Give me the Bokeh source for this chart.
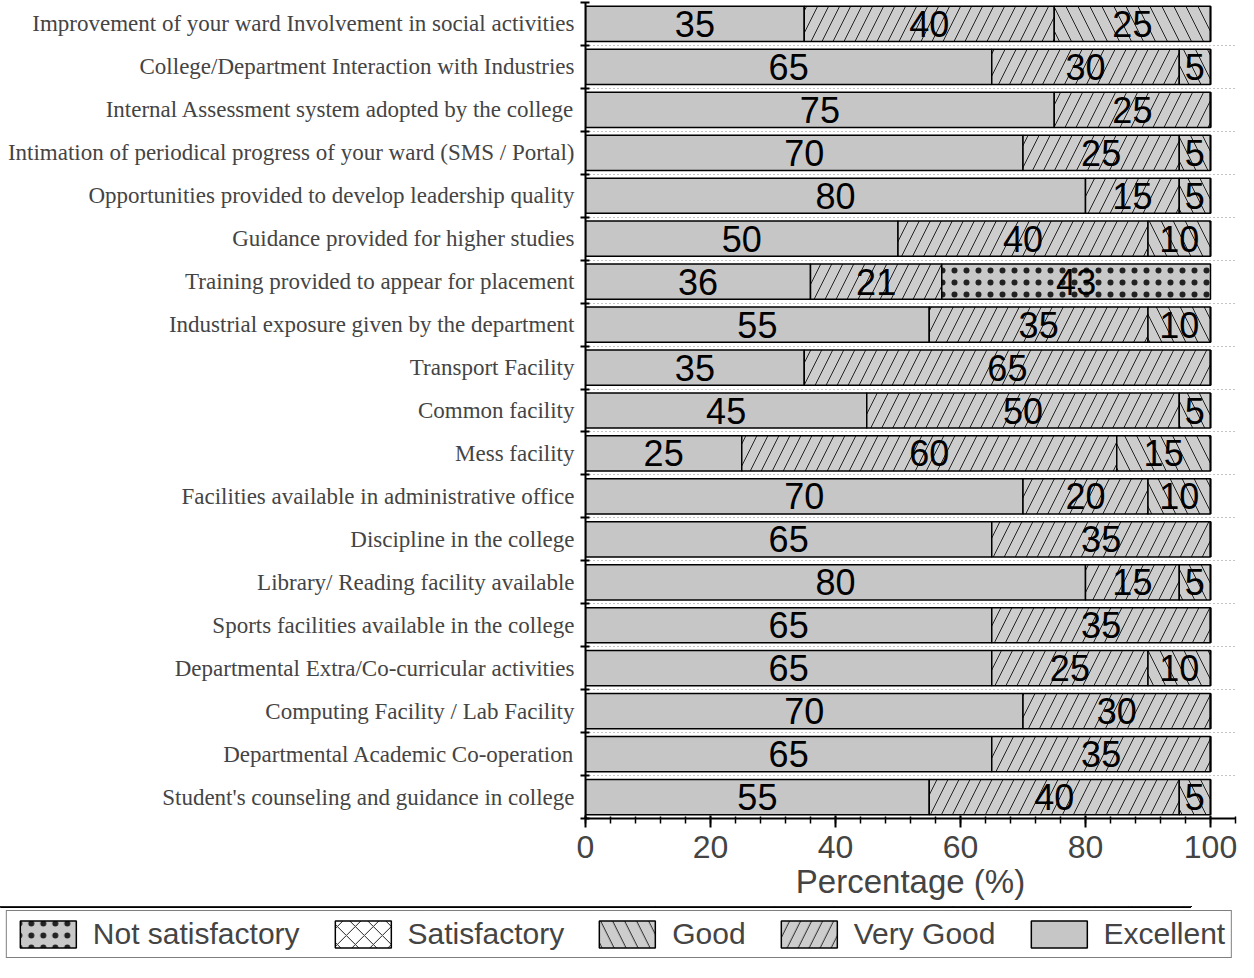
from bokeh.plotting import figure
from bokeh.models import (ColumnDataSource, Range1d, FixedTicker, SingleIntervalTicker,
                          Legend, LegendItem)
from bokeh.layouts import column
from bokeh.core.properties import value
from bokeh.embed import file_html
from bokeh.resources import INLINE

categories = [
    "Improvement of your ward Involvement in social activities",
    "College/Department Interaction with Industries",
    "Internal Assessment system adopted by the college",
    "Intimation of periodical progress of your ward (SMS / Portal)",
    "Opportunities provided to develop leadership quality",
    "Guidance provided for higher studies",
    "Training provided to appear for placement",
    "Industrial exposure given by the department",
    "Transport Facility",
    "Common facility",
    "Mess facility",
    "Facilities available in administrative office",
    "Discipline in the college",
    "Library/ Reading facility available",
    "Sports facilities available in the college",
    "Departmental Extra/Co-curricular activities",
    "Computing Facility / Lab Facility",
    "Departmental Academic Co-operation",
    "Student's counseling and guidance in college",
]
excellent = [35, 65, 75, 70, 80, 50, 36, 55, 35, 45, 25, 70, 65, 80, 65, 65, 70, 65, 55]
very_good = [40, 30, 25, 25, 15, 40, 21, 35, 65, 50, 60, 20, 35, 15, 35, 25, 30, 35, 40]
good = [25, 5, 0, 5, 5, 10, 0, 10, 0, 5, 15, 10, 0, 5, 0, 10, 0, 0, 5]
satisfactory = [0] * 19
not_satisfactory = [0, 0, 0, 0, 0, 0, 43, 0, 0, 0, 0, 0, 0, 0, 0, 0, 0, 0, 0]

series_names = ["Excellent", "Very Good", "Good", "Satisfactory", "Not satisfactory"]
series_values = [excellent, very_good, good, satisfactory, not_satisfactory]
legend_order = ["Not satisfactory", "Satisfactory", "Good", "Very Good", "Excellent"]

styles = {
    "Excellent": dict(fill_color="#c6c6c6", hatch_pattern=None, hatch_scale=0, hatch_weight=0),
    "Very Good": dict(fill_color="#cdcdcd", hatch_pattern="/", hatch_scale=22, hatch_weight=1.0),
    "Good": dict(fill_color="#cdcdcd", hatch_pattern="\\", hatch_scale=24, hatch_weight=1.0),
    "Satisfactory": dict(fill_color="#ffffff", hatch_pattern="x", hatch_scale=18, hatch_weight=1.0),
    "Not satisfactory": dict(fill_color="#c8c8c8", hatch_pattern=".", hatch_scale=12, hatch_weight=0.3),
}

n = len(categories)
SANS = "Liberation Sans"
SERIF = "Liberation Serif"


def bar_style(name):
    st = styles[name]
    kw = dict(fill_color=st["fill_color"], line_color="black", line_width=1.5)
    if st["hatch_pattern"]:
        kw.update(hatch_pattern=st["hatch_pattern"], hatch_color="#222222",
                  hatch_weight=st["hatch_weight"], hatch_scale=st["hatch_scale"])
    return kw


p = figure(width=1238, height=906, output_backend="svg", toolbar_location=None,
           x_range=Range1d(0, 104), y_range=Range1d(-0.5, n - 0.5),
           min_border_left=585, min_border_right=3, min_border_top=2,
           min_border_bottom=88)
p.outline_line_color = None
p.background_fill_color = "white"
p.frame_align = False

# legend strip (its own small figure; bars there lie outside its visible range)
lg = figure(width=1238, height=56, output_backend="svg", toolbar_location=None,
            x_range=Range1d(0, 104), y_range=Range1d(-100, -99),
            min_border_left=0, min_border_right=0, min_border_top=0, min_border_bottom=0)
lg.outline_line_color = None
lg.axis.visible = False
lg.xgrid.visible = False
lg.ygrid.visible = False
lg.frame_align = False

sources = {}
cum = [0] * n
for name, vals in zip(series_names, series_values):
    ys, lefts, rights = [], [], []
    ly, lmid, ltxt = [], [], []
    for i, v in enumerate(vals):
        ys.append(n - 1 - i)
        lefts.append(cum[i])
        rights.append(cum[i] + v)
        if v > 0:
            ly.append(n - 1 - i)
            lmid.append(cum[i] + v / 2)
            ltxt.append(str(v))
        cum[i] += v
    src = ColumnDataSource(dict(y=ys, left=lefts, right=rights))
    lsrc = ColumnDataSource(dict(y=ly, mid=lmid, label=ltxt))
    sources[name] = src
    p.hbar(y="y", left="left", right="right", height=0.82, source=src, **bar_style(name))
    p.text(x="mid", y="y", text="label", source=lsrc, text_align="center",
           text_baseline="middle", text_font=value(SANS), text_font_size="36px",
           text_color="black")

# x axis
xa = p.xaxis[0]
xa.ticker = SingleIntervalTicker(interval=20, num_minor_ticks=5)
xa.axis_line_width = 2
xa.major_tick_line_width = 2
xa.minor_tick_line_width = 1.5
xa.major_tick_in = 3
xa.major_tick_out = 9
xa.minor_tick_in = 2
xa.minor_tick_out = 5
xa.major_label_text_font = SANS
xa.major_label_text_font_size = "32px"
xa.major_label_standoff = 8
xa.axis_label = "Percentage (%)"
xa.axis_label_text_font = SANS
xa.axis_label_text_font_size = "33px"
xa.axis_label_text_font_style = "normal"
xa.axis_label_standoff = 2

# y axis
ya = p.yaxis[0]
centers = list(range(n))
bounds = [i - 0.5 for i in range(n + 1)]
ya.ticker = FixedTicker(ticks=centers, minor_ticks=bounds)
ya.major_label_overrides = {i: categories[n - 1 - i] for i in centers}
ya.major_tick_in = 0
ya.major_tick_out = 0
ya.minor_tick_in = 4
ya.minor_tick_out = 5
ya.minor_tick_line_width = 2
ya.axis_line_width = 2
ya.major_label_text_font = SERIF
ya.major_label_text_font_size = "23px"
ya.major_label_standoff = 6

p.xgrid.grid_line_color = None
p.ygrid.grid_line_color = None
p.ygrid.minor_grid_line_color = "#888888"
p.ygrid.minor_grid_line_dash = "1 3"
p.ygrid.minor_grid_line_width = 1

items = []
for nm in legend_order:
    r = lg.hbar(y="y", left="left", right="right", height=0.82, source=sources[nm],
                **bar_style(nm))
    items.append(LegendItem(label=nm, renderers=[r]))

legend = Legend(items=items, orientation="horizontal", location="center",
                glyph_width=70, glyph_height=34, label_standoff=10, spacing=28,
                label_text_font=SANS, label_text_font_size="30px",
                border_line_color="black", border_line_width=1.5,
                padding=6, margin=0, background_fill_alpha=1.0)
lg.add_layout(legend, "center")

layout = column(p, lg, spacing=0)
open("out.html", "w").write(file_html(layout, INLINE))
